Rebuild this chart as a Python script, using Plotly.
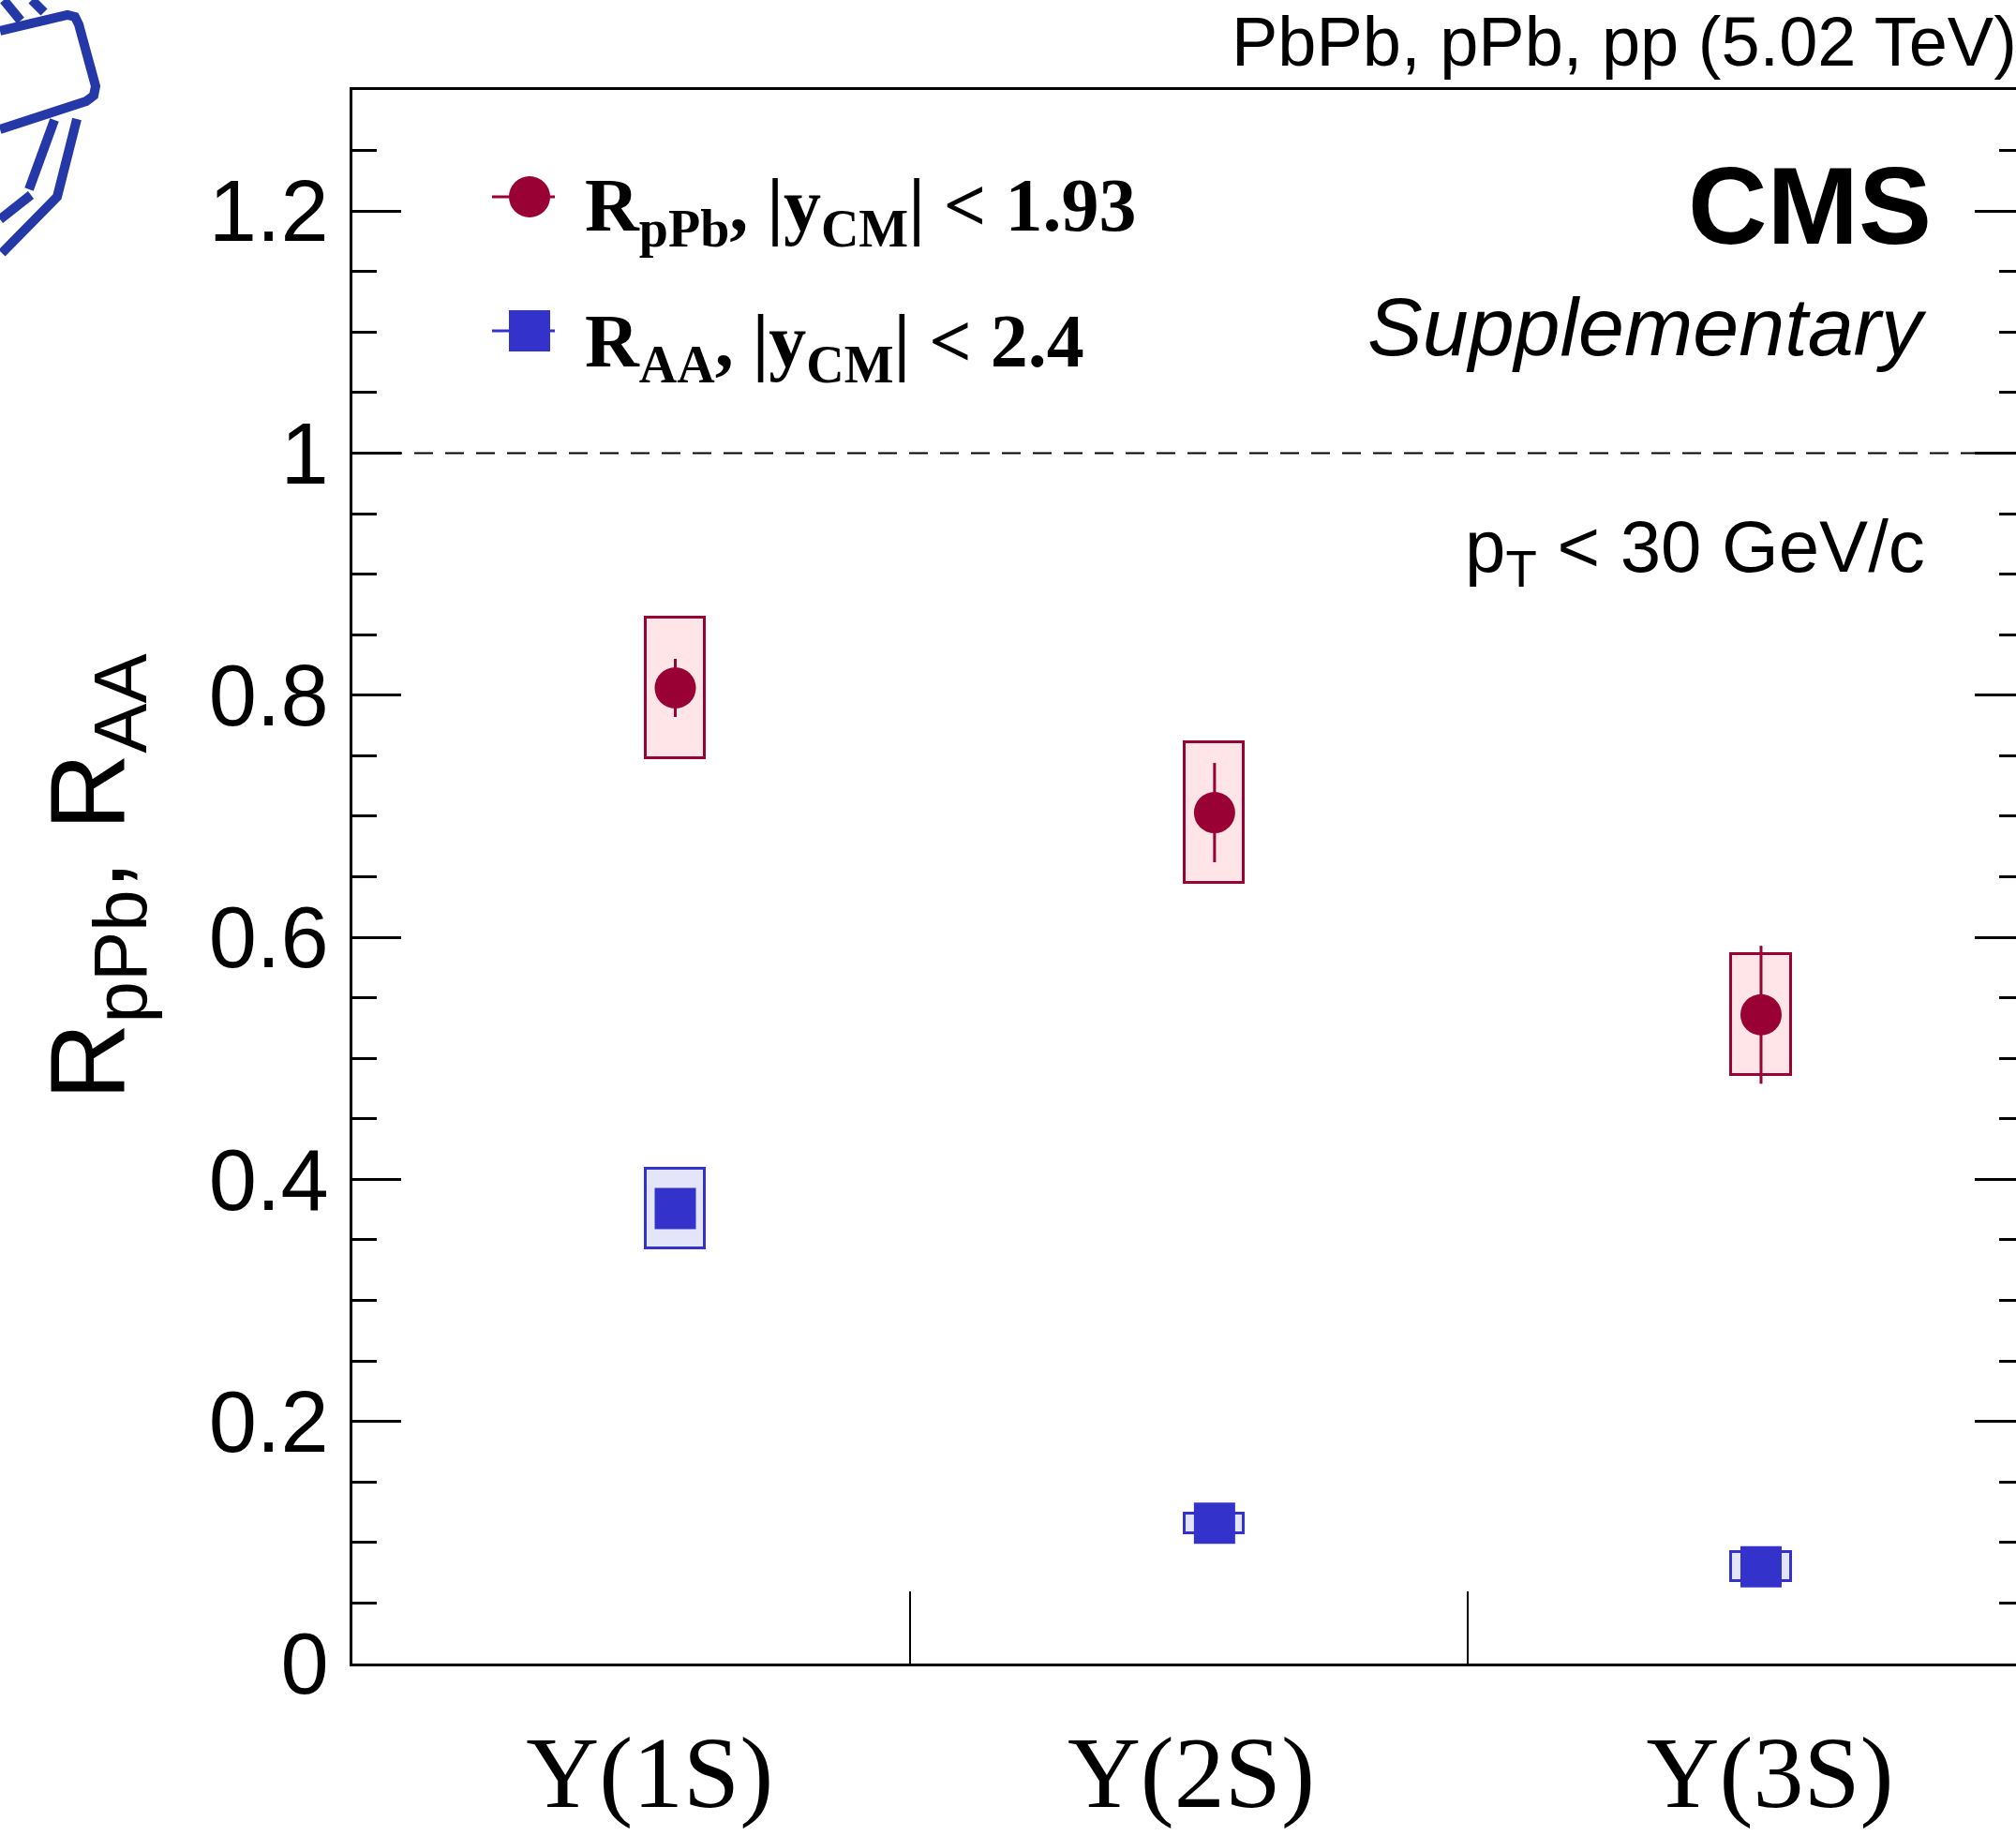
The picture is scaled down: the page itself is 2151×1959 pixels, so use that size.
import plotly.graph_objects as go

# ---------------- data ----------------
categories = ["Υ(1S)", "Υ(2S)", "Υ(3S)"]
label_x = [0.533, 1.504, 2.542]          # tick label positions (category centres as drawn)
point_x = [0.579, 1.546, 2.526]          # marker positions
box_halfwidth = 0.053

rppb = [0.806, 0.703, 0.536]
rppb_stat = [0.024, 0.041, 0.057]
rppb_syst = [0.058, 0.058, 0.050]

raa = [0.376, 0.116, 0.080]
raa_stat = [0.012, 0.005, 0.005]
raa_syst = [0.033, 0.008, 0.012]

ytick_vals = [0, 0.2, 0.4, 0.6, 0.8, 1.0, 1.2]
ytick_text = ["0", "0.2", "0.4", "0.6", "0.8", "1", "1.2"]

RED = "#990033"
RED_FILL = "#ffe5e8"
BLUE = "#3333cc"
BLUE_FILL = "#e5e5fa"

# ---------------- geometry ----------------
W, H = 2151, 1959
L, T, B = 376, 96, 1775
XMAX = 3 * (W - L) / (2161 - L)


def px(x):
    return (x - L) / (W - L)


def py(y):
    return (B - y) / (B - T)


SANS = "Liberation Sans"
SERIF = "Liberation Serif"

fig = go.Figure()

# systematic boxes
fig.add_trace(go.Bar(x=point_x, y=[2 * s for s in rppb_syst],
                     base=[v - s for v, s in zip(rppb, rppb_syst)],
                     width=2 * box_halfwidth,
                     marker=dict(color=RED_FILL, line=dict(color=RED, width=3)),
                     showlegend=False, hoverinfo="skip"))
fig.add_trace(go.Bar(x=point_x, y=[2 * s for s in raa_syst],
                     base=[v - s for v, s in zip(raa, raa_syst)],
                     width=2 * box_halfwidth,
                     marker=dict(color=BLUE_FILL, line=dict(color=BLUE, width=3)),
                     showlegend=False, hoverinfo="skip"))

# points with stat errors
fig.add_trace(go.Scatter(x=point_x, y=rppb, mode="markers",
                         marker=dict(symbol="circle", size=44, color=RED),
                         error_y=dict(type="data", array=rppb_stat, color=RED,
                                      thickness=3, width=0),
                         name="R_pPb", showlegend=False))
fig.add_trace(go.Scatter(x=point_x, y=raa, mode="markers",
                         marker=dict(symbol="square", size=44, color=BLUE),
                         error_y=dict(type="data", array=raa_stat, color=BLUE,
                                      thickness=3, width=0),
                         name="R_AA", showlegend=False))

# invisible trace to activate the right-hand tick axis
fig.add_trace(go.Scatter(x=[None], y=[None], yaxis="y2", showlegend=False))

shapes = []
# dashed unity line
shapes.append(dict(type="line", xref="paper", yref="y", x0=0, x1=1, y0=1, y1=1,
                   line=dict(color="black", width=2, dash="20px,13px")))

# legend glyphs
leg_rows = [(210, RED, "circle"), (353, BLUE, "square")]
for yy, col, sym in leg_rows:
    shapes.append(dict(type="line", xref="paper", yref="paper",
                       x0=px(525), x1=px(592), y0=py(yy), y1=py(yy),
                       line=dict(color=col, width=3)))
    shapes.append(dict(type="circle" if sym == "circle" else "rect",
                       xref="paper", yref="paper",
                       xsizemode="pixel", ysizemode="pixel",
                       xanchor=px(565), yanchor=py(yy),
                       x0=-22, x1=22, y0=-22, y1=22,
                       fillcolor=col, line=dict(color=col, width=0)))

# CMS logo (partial, top-left corner)
LOGO = "#2438a8"
logo_paths = [
    [(0, 33), (72, 16), (80, 18), (84, 26), (102, 92), (100, 102), (92, 108), (0, 138)],
    [(58, 128), (31, 202)],
    [(33, 208), (0, 234)],
    [(82, 127), (61, 210), (2, 270)],
    [(4, 0), (22, 22)],
    [(34, 0), (47, 13)],
]
for pts in logo_paths:
    d = "M " + " L ".join(f"{px(x):.5f},{py(y):.5f}" for x, y in pts)
    shapes.append(dict(type="path", xref="paper", yref="paper", path=d,
                       line=dict(color=LOGO, width=10)))

annotations = [
    dict(text="PbPb, pPb, pp (5.02 TeV)", x=px(1312), y=py(44), xref="paper",
         yref="paper", xanchor="left", yanchor="middle", showarrow=False,
         font=dict(family=SANS, size=74, color="black")),
    dict(text="CMS", x=px(2063), y=py(219), xref="paper", yref="paper",
         xanchor="right", yanchor="middle", showarrow=False,
         font=dict(family=SANS, size=117, color="black", weight="bold")),
    dict(text="Supplementary", x=px(2058), y=py(348), xref="paper", yref="paper",
         xanchor="right", yanchor="middle", showarrow=False,
         font=dict(family=SANS, size=88, color="black", style="italic")),
    dict(text="p<sub>T</sub> &lt; 30 GeV/c", x=px(2056), y=py(588), xref="paper",
         yref="paper", xanchor="right", yanchor="middle", showarrow=False,
         font=dict(family=SANS, size=78, color="black")),
    dict(text="R<sub>pPb</sub>, |y<sub>CM</sub>| &lt; 1.93", x=px(622), y=py(225),
         xref="paper", yref="paper", xanchor="left", yanchor="middle",
         showarrow=False, font=dict(family=SERIF, size=80, color="black", weight="bold")),
    dict(text="R<sub>AA</sub>, |y<sub>CM</sub>| &lt; 2.4", x=px(622), y=py(370),
         xref="paper", yref="paper", xanchor="left", yanchor="middle",
         showarrow=False, font=dict(family=SERIF, size=80, color="black", weight="bold")),
]

fig.update_layout(
    width=W, height=H,
    margin=dict(l=L, r=0, t=T, b=H - B, pad=0, autoexpand=False),
    paper_bgcolor="white", plot_bgcolor="white",
    barmode="overlay", bargap=0,
    showlegend=False,
    shapes=shapes, annotations=annotations,
    xaxis=dict(range=[0, XMAX], showgrid=False, zeroline=False, automargin=False,
               showline=True, linecolor="black", linewidth=3, mirror=True,
               tickmode="array", tickvals=label_x, ticktext=categories,
               ticks="", tickfont=dict(family=SERIF, size=108, color="black"),
               ticklabelstandoff=20,
               minor=dict(tickmode="array", tickvals=[1, 2], ticks="inside",
                          ticklen=77, tickwidth=2, tickcolor="black")),
    yaxis=dict(range=[0, 1.3], showgrid=False, zeroline=False, automargin=False,
               showline=True, linecolor="black", linewidth=3, mirror=False,
               tickmode="array", tickvals=ytick_vals, ticktext=ytick_text,
               ticks="inside", ticklen=52, tickwidth=2.5, tickcolor="black",
               tickfont=dict(family=SANS, size=92, color="black"),
               ticklabelstandoff=4,
               minor=dict(dtick=0.05, ticks="inside", ticklen=26, tickwidth=2.5,
                          tickcolor="black"),
               title=dict(text="R<sub>pPb</sub>, R<sub>AA</sub>",
                          font=dict(family=SANS, size=114, color="black"),
                          standoff=52)),
    yaxis2=dict(range=[0, 1.3], overlaying="y", side="right", anchor="x",
                showgrid=False, zeroline=False, showline=False, automargin=False,
                tickmode="array", tickvals=ytick_vals, showticklabels=False,
                ticks="inside", ticklen=44, tickwidth=2.5, tickcolor="black",
                minor=dict(dtick=0.05, ticks="inside", ticklen=18, tickwidth=2.5,
                           tickcolor="black")),
)

fig.write_html("out.html")
